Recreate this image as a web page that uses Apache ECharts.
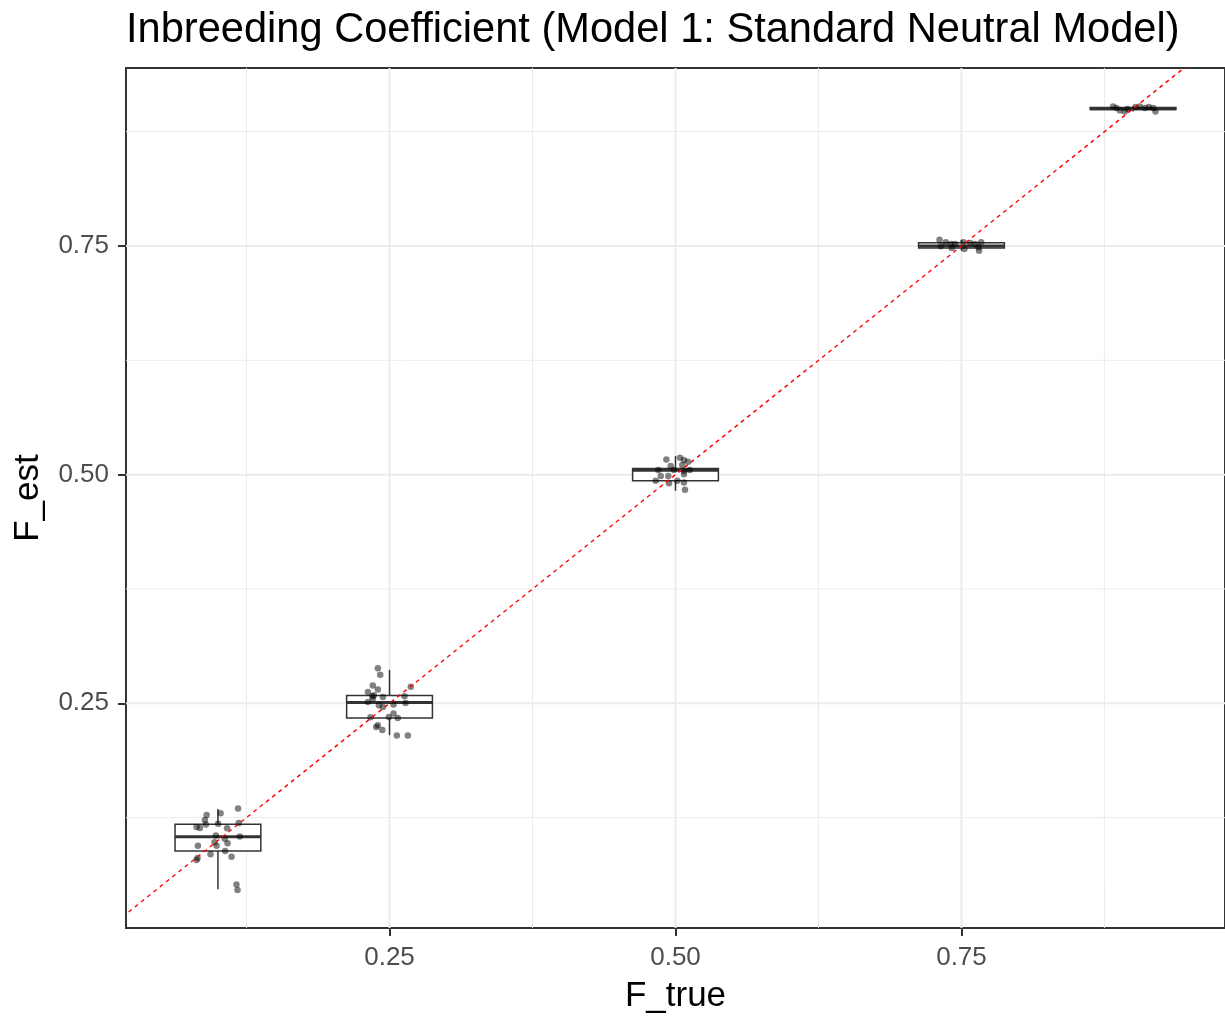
<!DOCTYPE html>
<html>
<head>
<meta charset="utf-8">
<script src="https://cdn.jsdelivr.net/npm/echarts@6/dist/echarts.min.js"></script>
<style>
  html, body { margin: 0; padding: 0; background: #fff; }
  #chart { width: 1225px; height: 1019px; }
</style>
</head>
<body>
<div id="chart"></div>
<script>
// axis ranges (ggplot expands the data range a little)
const xRange = [0.01963, 0.98037]
const yRange = [0.004348, 0.94457]

// ticks and grid breaks
const tickValues = [0.25, 0.5, 0.75]
const tickLabels = ['0.25', '0.50', '0.75']
const gridMajor = [0.25, 0.5, 0.75]
const gridMinor = [0.125, 0.375, 0.625, 0.875]

// boxplot stats per F_true: [F_true, lower whisker, Q1, median, Q3, upper whisker]
const boxStats = [
  [0.10, 0.0467, 0.0884, 0.1040, 0.1177, 0.1345],
  [0.25, 0.2152, 0.2340, 0.2508, 0.2584, 0.2866],
  [0.50, 0.4823, 0.4932, 0.5047, 0.5068, 0.5203],
  [0.75, 0.7449, 0.7478, 0.7500, 0.7536, 0.7568],
  [0.90, 0.8971, 0.8992, 0.9001, 0.9015, 0.9025]
]

// jittered points [x, F_est]
const pts010 = [
  [0.1176, 0.1351], [0.0901, 0.1279], [0.1023, 0.1297], [0.0886, 0.1225], [0.0894, 0.1174],
  [0.1002, 0.1182], [0.1182, 0.1192], [0.0813, 0.1149], [0.0842, 0.1138], [0.1080, 0.1134],
  [0.0982, 0.1054], [0.1191, 0.1043], [0.1060, 0.1018], [0.0970, 0.0982], [0.1084, 0.0971],
  [0.0825, 0.0942], [0.0988, 0.0942], [0.1063, 0.0884], [0.0935, 0.0851], [0.1119, 0.0823],
  [0.0822, 0.0808], [0.0813, 0.0786], [0.1162, 0.0518], [0.1171, 0.0460]
]
const pts025 = [
  [0.2398, 0.2884], [0.2419, 0.2812], [0.2354, 0.2696], [0.2398, 0.2652], [0.2686, 0.2682],
  [0.2311, 0.2623], [0.2349, 0.2576], [0.2363, 0.2587], [0.2442, 0.2568], [0.2631, 0.2576],
  [0.2311, 0.2514], [0.2354, 0.2551], [0.2407, 0.2478], [0.2442, 0.2460], [0.2535, 0.2486],
  [0.2640, 0.2503], [0.2535, 0.2388], [0.2494, 0.2351], [0.2572, 0.2340], [0.2334, 0.2348],
  [0.2398, 0.2261], [0.2384, 0.2242], [0.2437, 0.2207], [0.2564, 0.2149], [0.2660, 0.2149]
]
const pts050 = [
  [0.4920, 0.5166], [0.5039, 0.5185], [0.5074, 0.5160], [0.5109, 0.5141], [0.4958, 0.5095],
  [0.5059, 0.5105], [0.4850, 0.5051], [0.4987, 0.5051], [0.5074, 0.5040], [0.5124, 0.5051],
  [0.4871, 0.4986], [0.4937, 0.4986], [0.5074, 0.5003], [0.4827, 0.4932], [0.4943, 0.4905],
  [0.5016, 0.4932], [0.5074, 0.4913], [0.5083, 0.4834]
]
const pts075 = [
  [0.7308, 0.7568], [0.7319, 0.7497], [0.7363, 0.7540], [0.7410, 0.7522], [0.7415, 0.7478],
  [0.7445, 0.7522], [0.7518, 0.7540], [0.7526, 0.7467], [0.7619, 0.7522], [0.7649, 0.7486],
  [0.7672, 0.7540], [0.7654, 0.7449], [0.7576, 0.7533]
]
const pts090 = [
  [0.8826, 0.9025], [0.8855, 0.9008], [0.8885, 0.8982], [0.8928, 0.8971], [0.8951, 0.8997],
  [0.9021, 0.9018], [0.9059, 0.9025], [0.9103, 0.9008], [0.9138, 0.9018], [0.9176, 0.9008],
  [0.9196, 0.8971]
]

// y = x reference line
const refLine = [[0, 0], [1, 1]]

const boxHalf = 0.0375
const font = 'Liberation Sans, Arial, sans-serif'

let chart = echarts.init(document.getElementById('chart'))

function gridRender(params, api) {
  const v = api.value(0)
  const major = api.value(1) === 1
  const cs = params.coordSys
  const px = api.coord([v, yRange[0]])[0]
  const py = api.coord([xRange[0], v])[1]
  const style = { stroke: '#EBEBEB', lineWidth: major ? 2 : 1 }
  return {
    type: 'group',
    children: [
      { type: 'line', shape: { x1: px, y1: cs.y, x2: px, y2: cs.y + cs.height }, style: style },
      { type: 'line', shape: { x1: cs.x, y1: py, x2: cs.x + cs.width, y2: py }, style: style }
    ]
  }
}

function boxRender(params, api) {
  const x = api.value(0)
  const lo = api.value(1), q1 = api.value(2), med = api.value(3), q3 = api.value(4), hi = api.value(5)
  const tl = api.coord([x - boxHalf, q3])
  const br = api.coord([x + boxHalf, q1])
  const mL = api.coord([x - boxHalf, med])
  const mR = api.coord([x + boxHalf, med])
  const c = (v) => api.coord([x, v])
  const stroke = '#333333'
  return {
    type: 'group',
    children: [
      { type: 'line', shape: { x1: c(q3)[0], y1: c(q3)[1], x2: c(hi)[0], y2: c(hi)[1] }, style: { stroke: stroke, lineWidth: 1.5 } },
      { type: 'line', shape: { x1: c(q1)[0], y1: c(q1)[1], x2: c(lo)[0], y2: c(lo)[1] }, style: { stroke: stroke, lineWidth: 1.5 } },
      { type: 'rect', shape: { x: tl[0], y: tl[1], width: br[0] - tl[0], height: br[1] - tl[1] }, style: { fill: '#fff', stroke: stroke, lineWidth: 1.5 } },
      { type: 'line', shape: { x1: mL[0], y1: mL[1], x2: mR[0], y2: mR[1] }, style: { stroke: stroke, lineWidth: 3 } }
    ]
  }
}

const gridData = gridMajor.map(v => [v, 1]).concat(gridMinor.map(v => [v, 0]))
const allPoints = pts010.concat(pts025, pts050, pts075, pts090)

let options = {
  animation: false,
  backgroundColor: '#fff',
  title: {
    text: 'Inbreeding Coefficient (Model 1: Standard Neutral Model)',
    left: 121,
    top: 5,
    textStyle: { fontFamily: font, fontSize: 41.6, fontWeight: 'normal', color: '#000' }
  },
  grid: {
    left: 126,
    top: 68,
    width: 1101,
    height: 865,
    show: true,
    borderColor: '#333333',
    borderWidth: 2,
    backgroundColor: '#fff'
  },
  xAxis: {
    type: 'value',
    min: xRange[0],
    max: xRange[1],
    name: 'F_true',
    nameLocation: 'middle',
    nameGap: 51,
    nameTextStyle: { fontFamily: font, fontSize: 35, color: '#000' },
    axisLine: { show: false },
    splitLine: { show: false },
    axisTick: { show: true, customValues: tickValues, length: 8, lineStyle: { color: '#333333', width: 2 } },
    axisLabel: {
      customValues: tickValues,
      formatter: (v) => tickLabels[tickValues.indexOf(v)],
      margin: 17,
      fontFamily: font,
      fontSize: 26,
      color: '#4D4D4D'
    }
  },
  yAxis: {
    type: 'value',
    min: yRange[0],
    max: yRange[1],
    name: 'F_est',
    nameLocation: 'middle',
    nameRotate: 90,
    nameGap: 80,
    nameTextStyle: { fontFamily: font, fontSize: 35, color: '#000' },
    axisLine: { show: false },
    splitLine: { show: false },
    axisTick: { show: true, customValues: tickValues, length: 8, lineStyle: { color: '#333333', width: 2 } },
    axisLabel: {
      customValues: tickValues,
      formatter: (v) => tickLabels[tickValues.indexOf(v)],
      margin: 17,
      fontFamily: font,
      fontSize: 26,
      color: '#4D4D4D'
    }
  },
  series: [
    {
      type: 'custom',
      name: 'grid',
      renderItem: gridRender,
      data: gridData,
      silent: true,
      z: 1
    },
    {
      type: 'custom',
      name: 'box',
      renderItem: boxRender,
      data: boxStats,
      encode: { x: 0, y: [1, 2, 3, 4, 5] },
      silent: true,
      z: 2
    },
    {
      type: 'scatter',
      name: 'points',
      data: allPoints,
      symbolSize: 6.5,
      itemStyle: { color: 'rgba(0,0,0,0.62)' },
      silent: true,
      z: 3
    },
    {
      type: 'line',
      name: 'y=x',
      data: refLine,
      showSymbol: false,
      clip: true,
      lineStyle: { color: '#FF0000', width: 1.4, type: [4, 4] },
      silent: true,
      z: 4
    }
  ]
}

chart.setOption(options)
</script>
</body>
</html>
